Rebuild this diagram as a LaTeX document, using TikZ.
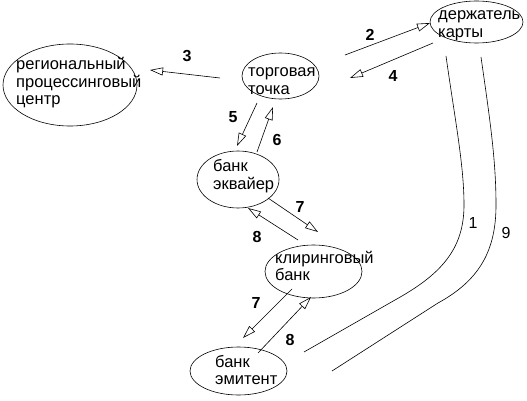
\documentclass[tikz,border=0pt]{standalone}
\usepackage{fontspec}
\setmainfont{Liberation Sans}
\usetikzlibrary{shapes.geometric,arrows.meta}
\begin{document}
\begin{tikzpicture}[x=1pt,y=-1pt,
  oval/.style={draw,ellipse,inner sep=0pt,line width=0.6pt},
  lbl/.style={font=\fontsize{16.5}{17.5}\selectfont, align=left, inner sep=0pt, anchor=west},
  num/.style={font=\fontsize{16}{16}\selectfont\bfseries, inner sep=0pt},
  plain/.style={font=\fontsize{16}{16}\selectfont, inner sep=0pt},
  arr/.style={-{Triangle[open,length=13pt,width=8pt]}, line width=0.6pt},
  curve/.style={line width=0.6pt}
]
\useasboundingbox (0,0) rectangle (527,401);
% ellipses
\node[oval, minimum width=134pt, minimum height=82pt] (rpc) at (70,85) {};
\node[oval, minimum width=77pt, minimum height=46pt] (tt) at (280.5,76) {};
\node[oval, minimum width=93pt, minimum height=42pt] (dk) at (476.5,22) {};
\node[oval, minimum width=82pt, minimum height=57pt] (be) at (238,179.5) {};
\node[oval, minimum width=97pt, minimum height=53pt] (kb) at (313.5,271.5) {};
\node[oval, minimum width=97pt, minimum height=48pt] (bm) at (238.5,371) {};
% texts
\node[lbl] (rpct) at (16,83) {региональный\\процессинговый\\центр};
\node[lbl] (ttt) at (248,81) {торговая\\точка};
\node[lbl] (dkt) at (438,26) {держатель\\карты};
\node[lbl] (bet) at (213,176) {банк\\эквайер};
\node[lbl] (kbt) at (275,266) {клиринговый\\банк};
\node[lbl] (bmt) at (215,370) {банк\\эмитент};
% arrow end coordinates
\coordinate (a3s) at (220,78);  \coordinate (a3e) at (150,70);
\coordinate (a2s) at (345,55);  \coordinate (a2e) at (430,23);
\coordinate (a4s) at (433,43);  \coordinate (a4e) at (350,78);
\coordinate (a5s) at (257,103); \coordinate (a5e) at (237,146);
\coordinate (a6s) at (257,152); \coordinate (a6e) at (273,107);
\coordinate (a7s) at (268,198); \coordinate (a7e) at (318,232);
\coordinate (a8s) at (298,240); \coordinate (a8e) at (248,208);
\coordinate (b7s) at (292,289); \coordinate (b7e) at (243,338);
\coordinate (b8s) at (258,353); \coordinate (b8e) at (311,297);
\draw[arr] (a3s) -- (a3e);
\draw[arr] (a2s) -- (a2e);
\draw[arr] (a4s) -- (a4e);
\draw[arr] (a5s) -- (a5e);
\draw[arr] (a6s) -- (a6e);
\draw[arr] (a7s) -- (a7e);
\draw[arr] (a8s) -- (a8e);
\draw[arr] (b7s) -- (b7e);
\draw[arr] (b8s) -- (b8e);
% curves 1 and 9
\coordinate (c1s) at (446,56);  \coordinate (c1e) at (304,352);
\coordinate (c9s) at (481,57);  \coordinate (c9e) at (332,371);
\draw[curve] (c1s) .. controls (455,120) and (464,165) .. (464,205)
  .. controls (464,250) and (440,275) .. (395,300) -- (c1e);
\draw[curve] (c9s) .. controls (490,120) and (496,160) .. (496,205)
  .. controls (496,250) and (480,280) .. (438,303) -- (c9e);
% labels
\node[num] (l3) at (187,56) {3};
\node[num] (l2) at (370,35) {2};
\node[num] (l4) at (393,76) {4};
\node[num] (l5) at (233,117) {5};
\node[num] (l6) at (277,140) {6};
\node[num] (l7a) at (300,207) {7};
\node[num] (l8a) at (257,237) {8};
\node[num] (l7b) at (256,303) {7};
\node[num] (l8b) at (290,340) {8};
\node[plain] (l1) at (473,223) {1};
\node[plain] (l9) at (506,233) {9};
\end{tikzpicture}
\end{document}
